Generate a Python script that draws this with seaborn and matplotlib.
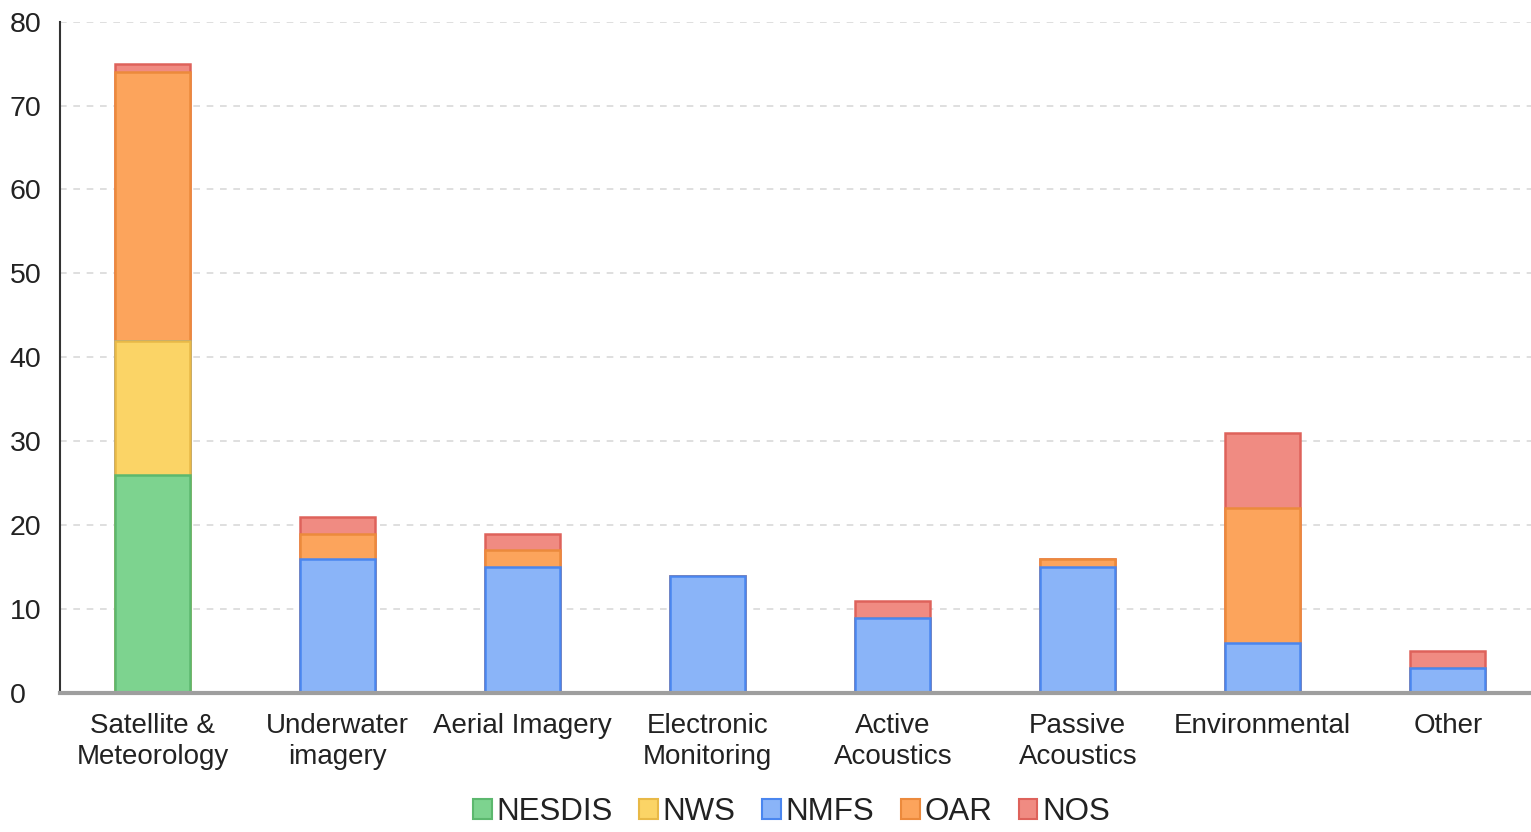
import matplotlib
matplotlib.use("Agg")
import matplotlib.pyplot as plt
from matplotlib.patches import Patch
import numpy as np
import pandas as pd
import seaborn as sns

categories = ["Satellite &\nMeteorology", "Underwater\nimagery", "Aerial Imagery",
              "Electronic\nMonitoring", "Active\nAcoustics", "Passive\nAcoustics",
              "Environmental", "Other"]
offices = ["NESDIS", "NWS", "NMFS", "OAR", "NOS"]
nesdis = [26, 0, 0, 0, 0, 0, 0, 0]
nws = [16, 0, 0, 0, 0, 0, 0, 0]
nmfs = [0, 16, 15, 14, 9, 15, 6, 3]
oar = [32, 3, 2, 0, 0, 1, 16, 0]
nos = [1, 2, 2, 0, 2, 0, 9, 2]
y_ticks = [0, 10, 20, 30, 40, 50, 60, 70, 80]

fills = ["#7dd38f", "#fbd466", "#8ab4f8", "#fca45c", "#f08b82"]
edges = ["#5cb86e", "#e8b947", "#4a86ef", "#ec8a3c", "#de625b"]

sns.set_theme(style="white")
plt.rcParams["font.family"] = ["Liberation Sans", "DejaVu Sans"]

series = [nesdis, nws, nmfs, oar, nos]
cum = np.cumsum(np.array(series), axis=0)

fig = plt.figure(figsize=(15.31, 8.32), dpi=100)
ax = fig.add_axes([0.039, 0.167, 0.961, 0.807])

# stacked bars: draw cumulative totals from the top layer down
for i in range(len(offices) - 1, -1, -1):
    df = pd.DataFrame({"category": categories, "total": cum[i]})
    sns.barplot(data=df, x="category", y="total", order=categories, ax=ax,
                color=fills[i], saturation=1, width=0.405,
                edgecolor=edges[i], linewidth=1.8, zorder=3)

ax.set_ylim(0, 80)
ax.set_xlim(-0.503, 7.45)
ax.set_yticks(y_ticks)
ax.set_yticklabels([str(t) for t in y_ticks], fontsize=20.5, color="#222222")
ax.tick_params(axis="x", labelsize=20, colors="#222222", length=0, pad=14)
ax.tick_params(axis="y", length=0, pad=36)
for lbl in ax.get_yticklabels():
    lbl.set_horizontalalignment("left")
for lbl in ax.get_xticklabels():
    lbl.set_linespacing(1.25)
ax.set_xlabel("")
ax.set_ylabel("")

ax.grid(axis="y", color="#d9d9d9", linestyle=(0, (4, 4)), linewidth=1.2, zorder=0)
ax.grid(axis="x", visible=False)
for s in ["top", "right"]:
    ax.spines[s].set_visible(False)
ax.spines["left"].set_color("#333333")
ax.spines["left"].set_linewidth(1.5)
ax.spines["bottom"].set_color("#9e9e9e")
ax.spines["bottom"].set_linewidth(3)
ax.spines["bottom"].set_zorder(4)

handles = [Patch(facecolor=f, edgecolor=e, linewidth=1.5) for f, e in zip(fills, edges)]
fig.legend(handles, offices, loc="lower center", bbox_to_anchor=(0.517, -0.028),
           ncol=5, frameon=False, fontsize=22.5, handlelength=0.6, handleheight=0.6,
           handletextpad=0.15, columnspacing=0.85, labelcolor="#222222")

fig.savefig("out.png", dpi=100)
